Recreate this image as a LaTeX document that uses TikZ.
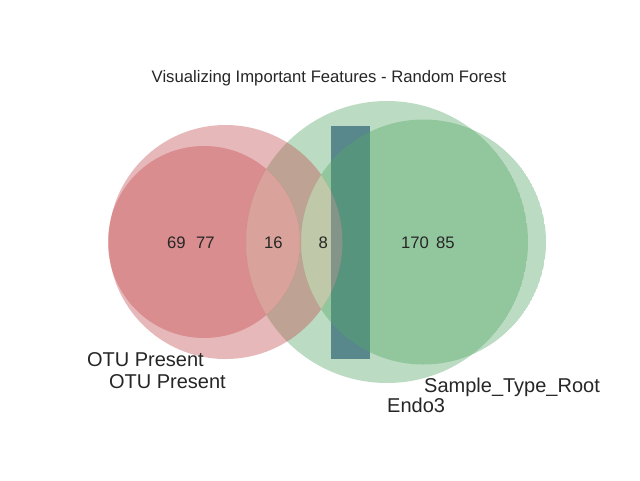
\documentclass[tikz,border=0pt]{standalone}
\usepackage{fontspec}
\setmainfont{Liberation Sans}
\definecolor{vred}{RGB}{196,78,82}
\definecolor{vgreen}{RGB}{85,168,104}
\definecolor{vmix}{RGB}{197,172,130}
\definecolor{rectc}{RGB}{88,135,140}
\definecolor{txt}{RGB}{38,38,38}
\newcommand\drawvenn[6]{%
  \begin{scope}
    \clip (#1,#2) circle[radius=#3];
    \fill[vred,fill opacity=0.4,even odd rule] (#1,#2) circle[radius=#3] (#4,#5) circle[radius=#6];
  \end{scope}
  \begin{scope}
    \clip (#4,#5) circle[radius=#6];
    \fill[vgreen,fill opacity=0.4,even odd rule] (#1,#2) circle[radius=#3] (#4,#5) circle[radius=#6];
  \end{scope}
  \begin{scope}
    \clip (#1,#2) circle[radius=#3];
    \fill[vmix,fill opacity=0.4] (#4,#5) circle[radius=#6];
  \end{scope}}
\begin{document}
\begin{tikzpicture}[x=1pt,y=-1pt,
  titletext/.style={text=txt,inner sep=0pt,font=\fontsize{16.67}{20}\selectfont},
  numtext/.style={text=txt,inner sep=0pt,anchor=base,font=\fontsize{16.67}{20}\selectfont},
  settext/.style={text=txt,inner sep=0pt,font=\fontsize{20}{24}\selectfont}]
\useasboundingbox (0,0) rectangle (640,480);
\fill[white] (0,0) rectangle (640,480);
% first diagram: OTU Present / Endo3
\drawvenn{204}{242}{96}{387}{242}{141}
% highlighted bar
\fill[rectc] (331,126) rectangle (369.5,359);
% second diagram: OTU Present / Sample_Type_Root
\drawvenn{225.5}{242}{117}{423.5}{242}{122.5}
% title
\node[titletext,anchor=base] (title) at (329,82.5) {Visualizing Important Features - Random Forest};
% region counts
\node[numtext] (n69) at (176.5,248) {69};
\node[numtext] (n77) at (205.3,248) {77};
\node[numtext] (n16) at (273.3,248) {16};
\node[numtext] (n8) at (323.3,248) {8};
\node[numtext] (n170) at (415,248) {170};
\node[numtext] (n85) at (445.3,248) {85};
% set labels
\node[settext,anchor=base east] (la1) at (204,366) {OTU Present};
\node[settext,anchor=base east] (la2) at (226,388) {OTU Present};
\node[settext,anchor=base west] (lb2) at (424,392) {Sample\_Type\_Root};
\node[settext,anchor=base west] (lb1) at (387,412) {Endo3};
\end{tikzpicture}
\end{document}
